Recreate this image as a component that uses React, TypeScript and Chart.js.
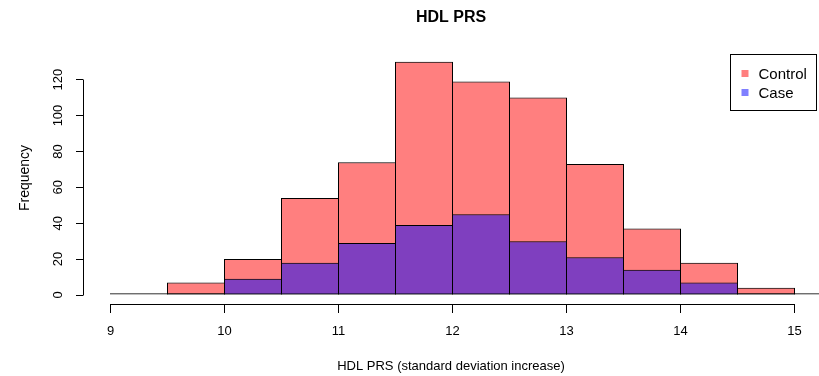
import React, { useEffect, useRef } from "react";
import { Chart, registerables } from "chart.js";

Chart.register(...registerables);

const chartTitle = "HDL PRS";
const xAxisTitle = "HDL PRS (standard deviation increase)";
const yAxisTitle = "Frequency";
const seriesNames = ["Control", "Case"];
const binStarts = [9, 9.5, 10, 10.5, 11, 11.5, 12, 12.5, 13, 13.5, 14, 14.5, 15];
const binWidth = 0.5;
const controlCounts = [1, 7, 20, 54, 74, 130, 119, 110, 73, 37, 18, 4, 0];
const caseCounts = [0, 1, 9, 18, 29, 39, 45, 30, 21, 14, 7, 1, 1];
const xTickValues = [9, 10, 11, 12, 13, 14, 15];
const yTickValues = [0, 20, 40, 60, 80, 100, 120];

const FONT = '"Liberation Sans", Arial, Helvetica, sans-serif';
const controlFill = "rgba(255,0,0,0.5)";
const caseFill = "rgba(0,0,255,0.5)";

// axis ranges (R-style 4% expansion around the plotted region)
const X_MIN = 8.75877;
const X_MAX = 15.21491;
const Y_MIN = -5.014;
const Y_MAX = 135.386;
// bars overlap by one pixel so adjacent outlines share one line (as in R)
const BAR_PCT = 58 / 57;

const align = (p: number) => Math.round(p - 0.5) + 0.5;

const rStylePlugin = {
  id: "rStyle",
  afterDraw(chart: any) {
    const { ctx, chartArea } = chart;
    const x = chart.scales.x;
    const y = chart.scales.y;
    ctx.save();
    ctx.strokeStyle = "#000";
    ctx.lineWidth = 1;
    const ax = align(chartArea.left);
    ctx.beginPath();
    ctx.moveTo(ax, align(y.getPixelForValue(yTickValues[0])));
    ctx.lineTo(ax, align(y.getPixelForValue(yTickValues[yTickValues.length - 1])));
    ctx.stroke();
    const ay = align(chartArea.bottom);
    ctx.beginPath();
    ctx.moveTo(align(x.getPixelForValue(xTickValues[0])), ay);
    ctx.lineTo(align(x.getPixelForValue(xTickValues[xTickValues.length - 1])), ay);
    ctx.stroke();

    const bw = 86;
    const bh = 56;
    const bx = Math.round(chartArea.right - 3 - bw) + 0.5;
    const by = Math.round(chartArea.top + 2) + 0.5;
    ctx.fillStyle = "#fff";
    ctx.fillRect(bx, by, bw, bh);
    ctx.strokeRect(bx, by, bw, bh);
    const fills = [controlFill, caseFill];
    ctx.font = `15px ${FONT}`;
    ctx.textBaseline = "middle";
    ctx.textAlign = "left";
    seriesNames.forEach((name, i) => {
      const cy = by + 19 + i * 19;
      ctx.fillStyle = fills[i];
      ctx.fillRect(bx + 11, cy - 3.5, 7, 7);
      ctx.fillStyle = "#000";
      ctx.fillText(name, bx + 28, cy + 1);
    });
    ctx.restore();
  },
};

export default function App() {
  const ref = useRef<HTMLCanvasElement>(null);
  useEffect(() => {
    document.body.style.margin = "0";
    const controlData = binStarts.map((s, i) => ({ x: s + binWidth / 2, y: controlCounts[i] }));
    const caseData = binStarts.map((s, i) => ({ x: s + binWidth / 2, y: caseCounts[i] }));
    const common = {
      borderColor: "#000",
      borderWidth: 1,
      borderSkipped: false,
      barPercentage: BAR_PCT,
      categoryPercentage: 1,
      grouped: false,
    };
    const chart = new Chart(ref.current as HTMLCanvasElement, {
      type: "bar",
      data: {
        datasets: [
          { label: seriesNames[0], data: controlData as any, backgroundColor: controlFill, order: 1, ...common } as any,
          { label: seriesNames[1], data: caseData as any, backgroundColor: caseFill, order: 0, ...common } as any,
        ],
      },
      options: {
        animation: false,
        responsive: false,
        maintainAspectRatio: false,
        layout: { padding: 0 },
        plugins: {
          legend: { display: false },
          tooltip: { enabled: false },
          title: {
            display: true,
            text: chartTitle,
            fullSize: false,
            color: "#000",
            font: { family: FONT, size: 16, weight: "bold" },
            padding: { top: 8, bottom: 24.8 },
          },
        },
        scales: {
          x: {
            type: "linear",
            min: X_MIN,
            max: X_MAX,
            offset: false,
            grid: {
              display: true,
              drawOnChartArea: false,
              drawTicks: true,
              tickLength: 9,
              color: "#000",
              tickColor: "#000",
              offset: false,
            },
            border: { display: false },
            ticks: {
              color: "#000",
              font: { family: FONT, size: 13 },
              padding: 11,
              autoSkip: false,
              maxRotation: 0,
              minRotation: 0,
            },
            afterBuildTicks: (s: any) => {
              s.ticks = xTickValues.map((v) => ({ value: v }));
            },
            afterFit: (s: any) => {
              s.height = 72;
            },
            title: {
              display: true,
              text: xAxisTitle,
              color: "#000",
              font: { family: FONT, size: 13 },
              padding: { top: 0, bottom: 2 },
            },
          },
          y: {
            type: "linear",
            min: Y_MIN,
            max: Y_MAX,
            grid: {
              display: true,
              drawOnChartArea: false,
              drawTicks: true,
              tickLength: 7,
              color: "#000",
              tickColor: "#000",
            },
            border: { display: false },
            ticks: {
              color: "#000",
              font: { family: FONT, size: 13 },
              padding: 7,
              minRotation: 90,
              maxRotation: 90,
              crossAlign: "center",
              autoSkip: false,
            },
            afterBuildTicks: (s: any) => {
              s.ticks = yTickValues.map((v) => ({ value: v }));
            },
            afterFit: (s: any) => {
              s.width = 83;
            },
            title: {
              display: true,
              text: yAxisTitle,
              color: "#000",
              font: { family: FONT, size: 14 },
              padding: { top: 17, bottom: 0 },
            },
          },
        },
      } as any,
      plugins: [rStylePlugin],
    });
    return () => chart.destroy();
  }, []);
  return (
    <div style={{ width: 819, height: 376 }}>
      <canvas ref={ref} width={819} height={376} style={{ display: "block" }} />
    </div>
  );
}
